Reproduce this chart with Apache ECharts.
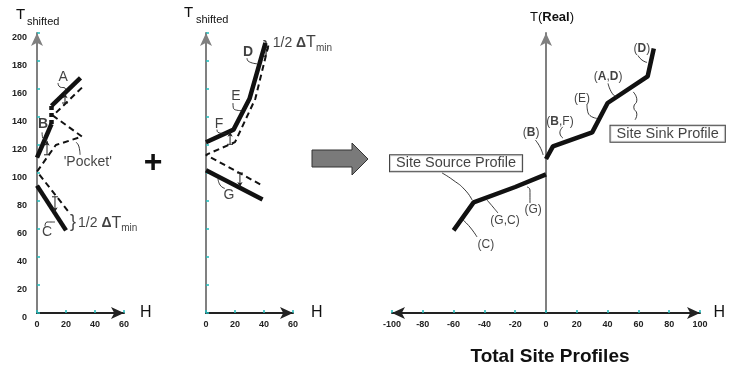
<!DOCTYPE html>
<html>
<head>
<meta charset="utf-8">
<script src="https://cdn.jsdelivr.net/npm/echarts@6/dist/echarts.min.js"></script>
<style>
html, body { margin: 0; padding: 0; background: #fff; }
#chart { width: 737px; height: 369px; }
</style>
</head>
<body>
<div id="chart"></div>
<script>
// ---- panel 1 : process with a pocket (H, T) ----
const p1B = [[0, 111], [10, 135]]
const p1Step = [[10, 135], [10, 148]]
const p1A = [[10, 148], [30, 168]]
const p1C = [[0, 91], [20, 59]]
const p1Shifted = [[31, 161], [11, 141], [31, 126], [13, 120], [0, 101], [22, 72]]
const p1Shifts = [[[19.3, 150], [19.3, 157]], [[6.9, 113], [6.9, 123]], [[12.4, 83], [12.4, 72]]]

// ---- panel 2 ----
const p2DEF = [[0, 122], [19, 131], [30, 153], [41, 193]]
const p2G = [[0, 102], [39, 81]]
const p2Shifted = [[43, 191], [34, 153], [20, 122], [0, 113], [39, 91]]
const p2Shifts = [[[16.6, 120.5], [16.6, 129.5]], [[23.4, 100], [23.4, 90]]]

// ---- panel 3 : total site profiles ----
const sinkProfile = [[0, 110], [4.5, 119], [30, 129], [40, 150], [66, 169], [70, 189]]
const sourceProfile = [[0, 99], [-20, 90], [-47, 79], [-60, 59]]

// labels [H, T, text]
const p1Labels = [[18, 168.6, 'A'], [4.1, 135, 'B'], [35, 108, "'Pocket'"], [6.9, 58, 'C']]
const p2Labels = [[29, 186, 'D'], [20.7, 155, 'E'], [9, 135, 'F'], [15.9, 84, 'G']]
const p3Labels = [[62.3, 189, '(D)'], [40.3, 168.6, '(A,D)'], [23.4, 153, '(E)'], [9.1, 137, '(B,F)'],
  [-9.7, 128.6, '(B)'], [-8.4, 74, '(G)'], [-26.6, 65.7, '(G,C)'], [-39, 48.6, '(C)']]
const p3Boxes = [[-58.4, 107, 'Site Source Profile'], [79, 128, 'Site Sink Profile']]
const dtminLabels = [[0, 28.3, 64], [1, 46, 193]]
const braces = [[0, 24.8, 65], [1, 41.4, 189]]

// leader squiggles
const p1Leaders = [
  [[14.5, 164.3], [15.9, 161.4], [19.3, 160.7], [20, 157.9]],
  [[3.5, 129], [4, 125], [7, 124]],
  [[29.7, 113], [29, 118.6], [26.9, 122]],
  [[5.5, 62], [6.9, 65], [12.4, 65]]
]
const p2Leaders = [
  [[28.3, 182], [29, 180], [35.2, 178]],
  [[18.6, 150], [19, 146], [25, 144.5]],
  [[7.6, 131], [8.3, 129], [14.5, 128]],
  [[8.3, 96], [9.7, 91.4], [13, 89]]
]
const p3Leaders = [
  [[59.7, 184], [62.3, 180.7], [65.6, 179]],
  [[40.3, 164], [42.9, 157], [46, 154]],
  [[26.6, 148.6], [27.3, 143], [33, 139]],
  [[11, 133], [9, 128.6], [11, 125]],
  [[-7, 123.6], [-3.9, 118.6], [-1.9, 112.9]],
  [[56.5, 158], [59, 152], [57, 147], [59, 142], [57.8, 138]],
  [[-67.5, 100], [-60.4, 95], [-52.6, 87.9], [-48, 80.7]],
  [[-12.3, 90], [-10.4, 87.9], [-10.4, 78.6]],
  [[-38.3, 80.7], [-34.4, 75.7], [-31.2, 71.4]],
  [[-53.9, 66.4], [-49.4, 61.4], [-44.8, 54.3]]
]

const FONT = 'Liberation Sans, Arial, sans-serif'
const chart = echarts.init(document.getElementById('chart'))

function line(data, gi, style, smooth) {
  return {
    type: 'line', xAxisIndex: gi, yAxisIndex: gi, data: data,
    symbol: 'none', silent: true, smooth: smooth || false, lineStyle: style, z: 3
  }
}
const thick = { color: '#111', width: 4.5 }
const dashed = { color: '#111', width: 2, type: [6, 4] }
const thin = { color: '#222', width: 0.9 }

// little arrows showing the 1/2 dTmin shift
function shiftMarks(list, gi) {
  return list.map(s => {
    const up = s[1][1] > s[0][1]
    return {
      type: 'line', xAxisIndex: gi, yAxisIndex: gi, silent: true,
      lineStyle: { color: '#222', width: 1 },
      data: [
        { value: s[0], symbol: 'rect', symbolSize: [6, 1], itemStyle: { color: '#222' } },
        { value: s[1], symbol: 'arrow', symbolSize: [4, 5], symbolRotate: up ? 0 : 180, itemStyle: { color: '#222' } }
      ]
    }
  })
}

function boldify(txt, boldSet) {
  return txt.split('').map(ch => boldSet.indexOf(ch) >= 0 ? '{b|' + ch + '}' : ch).join('')
}

function labels(items, gi, boldSet, size) {
  return {
    type: 'scatter', xAxisIndex: gi, yAxisIndex: gi, symbolSize: 0, silent: true, z: 5,
    data: items.map(d => ({ value: [d[0], d[1]], name: d[2] })),
    label: {
      show: true, position: 'inside', color: '#111', fontSize: size, fontFamily: FONT,
      formatter: p => boldify(p.name, boldSet),
      rich: { b: { fontWeight: 'bold', fontSize: size, fontFamily: FONT, color: '#111' } }
    }
  }
}

function xAxis(gi, min, max, sym, nameGap) {
  return {
    gridIndex: gi, type: 'value', min: min, max: max, interval: 20,
    name: 'H', nameLocation: 'end', nameGap: nameGap,
    nameTextStyle: { fontSize: 16, fontFamily: FONT, color: '#111' },
    axisLine: { show: true, lineStyle: { color: '#222', width: 2 }, symbol: sym, symbolSize: [9, 13] },
    axisTick: { show: true, inside: true, length: 3, lineStyle: { color: '#2bb', width: 1.5 } },
    axisLabel: { fontSize: 9, fontWeight: 'bold', color: '#222', fontFamily: FONT, margin: 7 },
    splitLine: { show: false }
  }
}

function yAxis(gi, showLabels, showTicks) {
  return {
    gridIndex: gi, type: 'value', min: 0, max: 200, interval: 20,
    axisLine: { show: true, onZero: true, lineStyle: { color: '#808080', width: 2 }, symbol: ['none', 'arrow'], symbolSize: [9, 13] },
    axisTick: { show: showTicks, inside: true, length: 3, lineStyle: { color: '#2bb', width: 1.5 } },
    axisLabel: { show: showLabels, fontSize: 9, fontWeight: 'bold', color: '#222', fontFamily: FONT, margin: 10, verticalAlign: 'top' },
    splitLine: { show: false }
  }
}

const dtRich = {
  n: { fontSize: 14, fontFamily: FONT, color: '#111' },
  d: { fontSize: 14, fontFamily: FONT, fontWeight: 'bold', color: '#111' },
  t: { fontSize: 16, fontFamily: FONT, color: '#111' },
  s: { fontSize: 10, fontFamily: FONT, color: '#111', padding: [10, 0, 0, 0] }
}

const series = [
  line(p1B, 0, thick), line(p1Step, 0, { color: '#111', width: 4.5, type: [4, 3] }),
  line(p1A, 0, thick), line(p1C, 0, thick), line(p1Shifted, 0, dashed),
  line(p2DEF, 1, thick), line(p2G, 1, thick), line(p2Shifted, 1, dashed),
  line(sinkProfile, 2, thick), line(sourceProfile, 2, thick)
]
  .concat(p1Leaders.map(d => line(d, 0, thin, 0.6)))
  .concat(p2Leaders.map(d => line(d, 1, thin, 0.6)))
  .concat(p3Leaders.map(d => line(d, 2, thin, 0.6)))
  .concat(shiftMarks(p1Shifts, 0))
  .concat(shiftMarks(p2Shifts, 1))
  .concat([
    labels(p1Labels, 0, ['B'], 14),
    labels(p2Labels, 1, ['D'], 14),
    labels(p3Labels, 2, ['A', 'B', 'D'], 12),
    {
      type: 'scatter', xAxisIndex: 2, yAxisIndex: 2, symbolSize: 0, silent: true, z: 6,
      data: p3Boxes.map(d => ({ value: [d[0], d[1]], name: d[2] })),
      label: {
        show: true, position: 'inside', formatter: '{b}', fontSize: 14.5, fontFamily: FONT, color: '#111',
        backgroundColor: '#fff', borderColor: '#111', borderWidth: 1, padding: [1, 6, 0, 6]
      }
    }
  ])
  .concat(dtminLabels.map(d => ({
    type: 'scatter', xAxisIndex: d[0], yAxisIndex: d[0], symbolSize: 0, silent: true, z: 5,
    data: [[d[1], d[2]]],
    label: { show: true, position: 'inside', align: 'left', formatter: '{n|1/2 }{d|Δ}{t|T}{s|min}', rich: dtRich }
  })))
  .concat(braces.map(d => ({
    type: 'scatter', xAxisIndex: d[0], yAxisIndex: d[0], symbolSize: 0, silent: true, z: 5,
    data: [[d[1], d[2]]],
    label: { show: true, position: 'inside', formatter: '}', fontSize: 18, fontFamily: FONT, color: '#111' }
  })))

const option = {
  animation: false,
  backgroundColor: '#fff',
  grid: [
    { left: 37, top: 33, width: 87, height: 280 },
    { left: 206, top: 33, width: 87, height: 280 },
    { left: 392, top: 33, width: 308, height: 280 }
  ],
  xAxis: [
    xAxis(0, 0, 60, ['none', 'arrow'], 16),
    xAxis(1, 0, 60, ['none', 'arrow'], 18),
    xAxis(2, -100, 100, ['arrow', 'arrow'], 9)
  ],
  yAxis: [yAxis(0, true, true), yAxis(1, false, true), yAxis(2, false, false)],
  series: series,
  graphic: [
    { type: 'text', x: 16, y: 15, style: { text: 'T', font: '15px ' + FONT, fill: '#111', verticalAlign: 'middle' } },
    { type: 'text', x: 27, y: 22, style: { text: 'shifted', font: '11px ' + FONT, fill: '#111', verticalAlign: 'middle' } },
    { type: 'text', x: 184, y: 13, style: { text: 'T', font: '15px ' + FONT, fill: '#111', verticalAlign: 'middle' } },
    { type: 'text', x: 196, y: 20, style: { text: 'shifted', font: '11px ' + FONT, fill: '#111', verticalAlign: 'middle' } },
    {
      type: 'text', x: 552, y: 17,
      style: {
        text: '{n|T(}{b|Real}{n|)}', align: 'center', verticalAlign: 'middle',
        rich: { n: { fontSize: 13, fontFamily: FONT, fill: '#111' }, b: { fontSize: 13, fontFamily: FONT, fontWeight: 'bold', fill: '#111' } }
      }
    },
    { type: 'text', x: 153, y: 163, style: { text: '+', font: 'bold 32px ' + FONT, fill: '#111', align: 'center', verticalAlign: 'middle' } },
    {
      type: 'polygon',
      shape: { points: [[312, 150], [352, 150], [352, 143], [368, 159], [352, 175], [352, 167], [312, 167]] },
      style: { fill: '#7a7a7a', stroke: '#333', lineWidth: 1 }
    },
    { type: 'text', x: 550, y: 357, style: { text: 'Total Site Profiles', font: 'bold 19px ' + FONT, fill: '#111', align: 'center', verticalAlign: 'middle' } }
  ]
}

chart.setOption(option)
</script>
</body>
</html>
